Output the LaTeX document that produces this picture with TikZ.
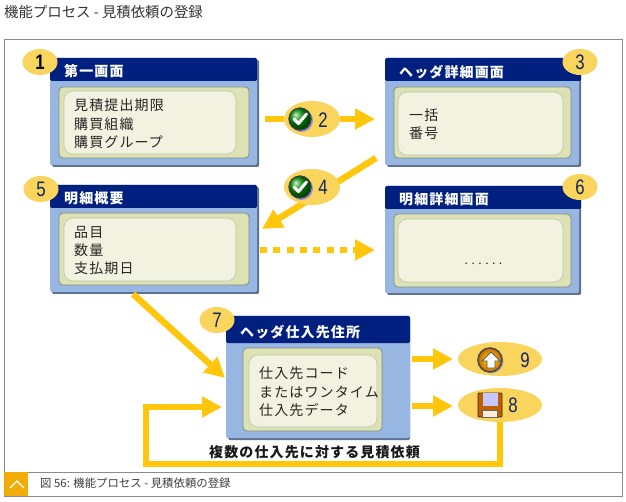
\documentclass[tikz,border=0pt]{standalone}
\usepackage{fontspec}
\setmainfont{Noto Sans CJK JP}
\newfontfamily\cjkbody[LetterSpace=8]{Noto Sans CJK JP}
\newfontfamily\latinnum{Liberation Sans}
\usetikzlibrary{arrows.meta,shapes.geometric}
\definecolor{flowy}{HTML}{FFC60B}
\definecolor{bubble}{HTML}{F9D55E}
\definecolor{navy}{HTML}{00207F}
\definecolor{panelblue}{HTML}{98B6E2}
\definecolor{paneledge}{HTML}{5E7191}
\definecolor{innerg}{HTML}{DDE2B4}
\definecolor{innerb}{HTML}{7F8C84}
\definecolor{innerc}{HTML}{F1F2DF}
\definecolor{numc}{HTML}{14245F}
\definecolor{framec}{HTML}{8C8C8C}
\definecolor{tabc}{HTML}{F2AC07}
\tikzset{
  panelshadow/.style={fill=paneledge,draw=none,rounded corners=1.5pt},
  panel/.style={fill=panelblue,draw=none,rounded corners=2pt},
  headbar/.style={fill=navy,draw=none,rounded corners=1.5pt},
  innerbox/.style={fill=innerg,draw=innerb,line width=.8pt,rounded corners=4pt},
  corebox/.style={fill=innerc,draw=innerg!70!gray,line width=.6pt,rounded corners=9pt},
  headtext/.style={anchor=west,text=white,inner sep=0pt,font=\cjkbody\bfseries\fontsize{14}{18}\selectfont},
  bodytext/.style={anchor=west,text=black!85,inner sep=0pt,align=left,font=\cjkbody\fontsize{14}{18.3}\selectfont},
  badge/.style={ellipse,fill=bubble,draw=none,minimum width=35pt,minimum height=26pt,inner sep=0pt},
  bigbubble/.style={ellipse,fill=bubble,draw=none,inner sep=0pt},
  numtext/.style={inner sep=0pt,text=numc,font=\latinnum\fontsize{21}{21}\selectfont,xscale=.8,transform shape},
  flow/.style={draw=flowy,line width=6.5pt,-{Triangle[length=20pt,width=20pt,fill=flowy]}},
  flowplain/.style={draw=flowy,line width=6.5pt},
  flowdash/.style={flow,dash pattern=on 7pt off 6.3pt},
  checkicon/.pic={
    \fill[gray!60!blue!60] (1.5,1.5) circle (11.5);
    \shade[ball color=green!55!black] (0,0) circle (11.5);
    \draw[black!75,line width=1pt] (0,0) circle (11);
    \draw[white,line width=3pt,line join=round,line cap=round] (-6,0) -- (-1.5,4.5) -- (6.5,-5);
  },
  upicon/.pic={
    \fill[gray!60] (1.5,1.5) circle (12);
    \shade[inner color=yellow!90!orange,outer color=orange!80!black] (0,0) circle (12);
    \draw[black!70,line width=1.6pt] (0,0) circle (12);
    \fill[white,draw=black!70,line width=.7pt] (1,-8) -- (10,1) -- (5,1) -- (5,8) -- (-3,8) -- (-3,1) -- (-8,1) -- cycle;
  },
  saveicon/.pic={
    \fill[orange!75!black,draw=black!75!orange,line width=.9pt,rounded corners=1pt] (-12,-12) rectangle (12,12);
    \fill[blue!22!white] (-7.5,-12) rectangle (7.5,1);
    \fill[orange!15!white,draw=black!60,line width=.5pt] (-7.5,5) rectangle (7.5,12);
  }
}
\newcommand{\rectnode}[6]{%
  \pgfmathsetmacro{\rectw}{#5-#3}%
  \pgfmathsetmacro{\recth}{#6-#4}%
  \node[#1,anchor=north west,inner sep=0pt,outer sep=0pt,minimum width=\rectw pt,minimum height=\recth pt] (#2) at (#3,#4) {};%
}
\begin{document}
\begin{tikzpicture}[x=1pt,y=-1pt]
\useasboundingbox (0,0) rectangle (626,502);
\fill[white] (0,0) rectangle (626,502);

% page title
\node[anchor=west,inner sep=0pt,text=black!80,font=\fontsize{14.4}{16}\selectfont] (title) at (4,12) {機能プロセス - 見積依頼の登録};

% frame
\rectnode{draw=framec,line width=1pt,fill=white}{frame}{4}{40}{622}{496}
\coordinate (capl) at (4,472);
\coordinate (capr) at (622,472);
\draw[framec,line width=1pt] (capl) -- (capr);
\rectnode{fill=tabc}{tab}{4}{472}{28}{496}
\draw[white,line width=1.1pt] (10,488) -- (17,481) -- (24,488);
\node[anchor=west,inner sep=0pt,text=black!75,font=\fontsize{11.4}{13}\selectfont] (caption) at (40,483) {図 56: 機能プロセス - 見積依頼の登録};

% panel 1
\rectnode{panelshadow}{s1}{52}{60}{259}{167}
\rectnode{panel}{box1}{50}{58}{257}{165}
\rectnode{headbar}{h1}{50}{58}{257}{81}
\rectnode{innerbox}{i1}{59}{87}{249}{158}
\rectnode{corebox}{c1}{64}{91}{236}{154}
\node[headtext] (t1) at (64,71) {第一画面};
\node[bodytext] (b1) at (74,124) {見積提出期限\\購買組織\\購買グループ};

% panel 3
\rectnode{panelshadow}{s3}{387}{60}{581}{167}
\rectnode{panel}{box3}{385}{58}{579}{165}
\rectnode{headbar}{h3}{385}{58}{581}{81}
\rectnode{innerbox}{i3}{394}{87}{571}{158}
\rectnode{corebox}{c3}{398}{92}{563}{155}
\node[headtext] (t3) at (399,72) {ヘッダ詳細画面};
\node[bodytext] (b3) at (409,124.5) {一括\\番号};

% panel 5
\rectnode{panelshadow}{s5}{52}{187}{259}{294}
\rectnode{panel}{box5}{50}{185}{257}{292}
\rectnode{headbar}{h5}{50}{185}{257}{208}
\rectnode{innerbox}{i5}{59}{213}{249}{285}
\rectnode{corebox}{c5}{64}{218}{236}{281}
\node[headtext] (t5) at (64,198) {明細概要};
\node[bodytext] (b5) at (74,250.5) {品目\\数量\\支払期日};

% panel 6
\rectnode{panelshadow}{s6}{387}{188}{581}{295}
\rectnode{panel}{box6}{385}{186}{579}{293}
\rectnode{headbar}{h6}{385}{186}{581}{209}
\rectnode{innerbox}{i6}{394}{214}{571}{287}
\rectnode{corebox}{c6}{398}{219}{563}{282}
\node[headtext] (t6) at (399,199) {明細詳細画面};
\node[anchor=center,inner sep=0pt,text=black!85,font=\fontsize{12}{14}\selectfont] (b6) at (483.5,264) {.\hspace{3.5pt}.\hspace{3.5pt}.\hspace{3.5pt}.\hspace{3.5pt}.\hspace{3.5pt}.};

% panel 7
\rectnode{panelshadow}{s7}{228}{318}{410}{440}
\rectnode{panel}{box7}{226}{316}{410}{438}
\rectnode{headbar}{h7}{226}{316}{410}{343}
\rectnode{innerbox}{i7}{243}{348}{382}{431}
\rectnode{corebox}{c7}{249}{355}{377}{427}
\node[headtext] (t7) at (240,332) {ヘッダ仕入先住所};
\node[bodytext] (b7) at (259,392) {仕入先コード\\またはワンタイム\\仕入先データ};
\node[inner sep=0pt,text=black!90,font=\cjkbody\bfseries\fontsize{14}{18}\selectfont] (note) at (314.5,452) {複数の仕入先に対する見積依頼};

% number badges on the panels
\node[badge] (n1) at (40,62) {};
\node[numtext,text=black,font=\latinnum\bfseries\fontsize{21}{21}\selectfont] (l1) at (n1) {1};
\node[badge] (n3) at (580,62) {};
\node[numtext] (l3) at (n3) {3};
\node[badge] (n5) at (41,189) {};
\node[numtext] (l5) at (n5) {5};
\node[badge] (n6) at (580,187) {};
\node[numtext] (l6) at (n6) {6};
\node[badge] (n7) at (217,320) {};
\node[numtext] (l7) at (n7) {7};

% connector ends
\coordinate (a2s) at (265,119);
\coordinate (a2t) at (375,119);
\coordinate (a4s) at (376,158);
\coordinate (a4t) at (262,229);
\coordinate (adS) at (260,250);
\coordinate (adT) at (375,250);
\coordinate (a7s) at (133,294);
\coordinate (a7t) at (225,378);
\coordinate (a9s) at (412,359);
\coordinate (a9t) at (453,359);
\coordinate (a8s) at (412,406);
\coordinate (a8t) at (453,406);
\coordinate (r1) at (146,464);
\coordinate (r2) at (222,407);

% arrow 4 passes behind its bubble
\draw[flow] (a4s) -- (a4t);

% bubbles on the connectors
\node[bigbubble,minimum width=56pt,minimum height=36pt] (e2) at (312,119) {};
\pic at (300,119) {checkicon};
\node[numtext] (l2) at (323,120) {2};
\node[bigbubble,minimum width=56pt,minimum height=36pt] (e4) at (312,187) {};
\pic at (300,187) {checkicon};
\node[numtext] (l4) at (323,187) {4};
\node[bigbubble,minimum width=84pt,minimum height=34pt] (e9) at (500,359) {};
\pic at (490,360) {upicon};
\node[numtext] (l9) at (525,360) {9};
\node[bigbubble,minimum width=84pt,minimum height=34pt] (e8) at (500,405) {};
\pic at (490,405) {saveicon};
\node[numtext] (l8) at (513,405) {8};

\draw[flowplain] (a2s) -- (e2.west);
\draw[flow] (e2.east) -- (a2t);
\draw[flowdash] (adS) -- (adT);
\draw[flow] (a7s) -- (a7t);
\draw[flow] (a9s) -- (a9t);
\draw[flow] (a8s) -- (a8t);
\draw[flow,line join=miter] (e8.south) |- (r1) |- (r2);
\end{tikzpicture}
\end{document}
